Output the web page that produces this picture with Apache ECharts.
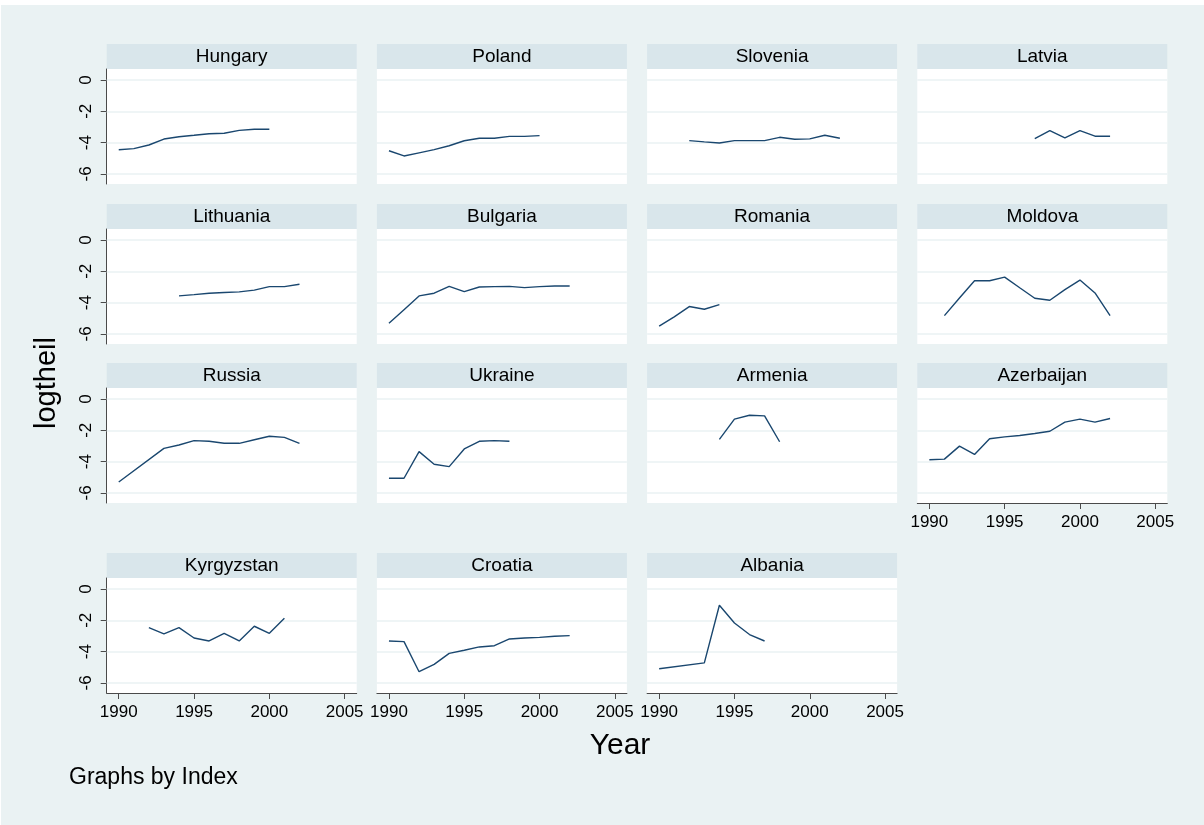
<!DOCTYPE html>
<html>
<head>
<meta charset="utf-8">
<script src="https://cdn.jsdelivr.net/npm/echarts@6/dist/echarts.min.js"></script>
<style>
html,body{margin:0;padding:0;background:#fff;}
#chart{width:1204px;height:825px;}
</style>
</head>
<body>
<div id="chart"></div>
<script>
// ---- data ----
const panelNames = ["Hungary","Poland","Slovenia","Latvia","Lithuania","Bulgaria","Romania","Moldova","Russia","Ukraine","Armenia","Azerbaijan","Kyrgyzstan","Croatia","Albania"];
const xTicks = [1990, 1995, 2000, 2005];
const yTicks = [0, -2, -4, -6];

const yearsHungary = [1990,1991,1992,1993,1994,1995,1996,1997,1998,1999,2000];
const valsHungary  = [-4.45,-4.38,-4.15,-3.77,-3.62,-3.53,-3.43,-3.40,-3.22,-3.15,-3.15];
const yearsPoland = [1990,1991,1992,1993,1994,1995,1996,1997,1998,1999,2000];
const valsPoland  = [-4.52,-4.85,-4.65,-4.45,-4.20,-3.88,-3.72,-3.72,-3.60,-3.60,-3.55];
const yearsSlovenia = [1992,1993,1994,1995,1996,1997,1998,1999,2000,2001,2002];
const valsSlovenia  = [-3.87,-3.95,-4.02,-3.87,-3.87,-3.87,-3.66,-3.78,-3.76,-3.53,-3.72];
const yearsLatvia = [1997,1998,1999,2000,2001,2002];
const valsLatvia  = [-3.74,-3.23,-3.70,-3.23,-3.59,-3.59];
const yearsLithuania = [1994,1995,1996,1997,1998,1999,2000,2001,2002];
const valsLithuania  = [-3.57,-3.49,-3.40,-3.35,-3.31,-3.20,-2.98,-2.98,-2.83];
const yearsBulgaria = [1990,1991,1992,1993,1994,1995,1996,1997,1998,1999,2000,2001,2002];
const valsBulgaria  = [-5.32,-4.45,-3.57,-3.40,-2.96,-3.30,-3.00,-2.98,-2.96,-3.04,-2.98,-2.94,-2.94];
const yearsRomania = [1990,1991,1992,1993,1994];
const valsRomania  = [-5.50,-4.91,-4.25,-4.42,-4.13];
const yearsMoldova = [1991,1992,1993,1994,1995,1996,1997,1998,1999,2000,2001,2002];
const valsMoldova  = [-4.83,-3.70,-2.60,-2.60,-2.37,-3.05,-3.72,-3.85,-3.17,-2.56,-3.38,-4.83];
const yearsRussia = [1990,1993,1994,1995,1996,1997,1998,1999,2000,2001,2002];
const valsRussia  = [-5.30,-3.15,-2.94,-2.66,-2.70,-2.83,-2.83,-2.60,-2.38,-2.45,-2.83];
const yearsUkraine = [1990,1991,1992,1993,1994,1995,1996,1997,1998];
const valsUkraine  = [-5.06,-5.06,-3.36,-4.17,-4.32,-3.19,-2.70,-2.66,-2.70];
const yearsArmenia = [1994,1995,1996,1997,1998];
const valsArmenia  = [-2.58,-1.29,-1.04,-1.08,-2.73];
const yearsAzerbaijan = [1990,1991,1992,1993,1994,1995,1996,1997,1998,1999,2000,2001,2002];
const valsAzerbaijan  = [-3.88,-3.84,-3.01,-3.54,-2.54,-2.42,-2.33,-2.20,-2.06,-1.48,-1.29,-1.48,-1.25];
const yearsKyrgyzstan = [1992,1993,1994,1995,1996,1997,1998,1999,2000,2001];
const valsKyrgyzstan  = [-2.47,-2.87,-2.47,-3.13,-3.32,-2.83,-3.32,-2.38,-2.83,-1.87];
const yearsCroatia = [1990,1991,1992,1993,1994,1995,1996,1997,1998,1999,2000,2001,2002];
const valsCroatia  = [-3.32,-3.36,-5.28,-4.81,-4.11,-3.91,-3.70,-3.62,-3.19,-3.13,-3.09,-3.02,-2.98];
const yearsAlbania = [1990,1993,1994,1995,1996,1997];
const valsAlbania  = [-5.09,-4.72,-1.04,-2.17,-2.91,-3.32];

const panelYears = [yearsHungary,yearsPoland,yearsSlovenia,yearsLatvia,yearsLithuania,yearsBulgaria,yearsRomania,yearsMoldova,yearsRussia,yearsUkraine,yearsArmenia,yearsAzerbaijan,yearsKyrgyzstan,yearsCroatia,yearsAlbania];
const panelVals = [valsHungary,valsPoland,valsSlovenia,valsLatvia,valsLithuania,valsBulgaria,valsRomania,valsMoldova,valsRussia,valsUkraine,valsArmenia,valsAzerbaijan,valsKyrgyzstan,valsCroatia,valsAlbania];

// ---- layout ----
const FONT = '"Liberation Sans", Arial, sans-serif';
const COL_X0 = 106.7, COL_PITCH = 270.2, PANEL_W = 250;
const ROW_TOPS = [69, 229, 388, 578];
const PLOT_H = 115, HEAD_H = 25;
const X_MIN = 1989.2, X_MAX = 2005.8;
const Y_MIN = -6.64, Y_MAX = 0.70;
const AXIS_COLOR = '#4a4a4a';
const LINE_COLOR = '#1a476f';
const BG = '#eaf2f3';
const HEAD_BG = '#d9e6eb';

const grids = [], xAxes = [], yAxes = [], series = [];
const graphics = [{
  type: 'rect', left: 1, top: 5, z: -10,
  shape: {width: 1203, height: 820}, style: {fill: BG}, silent: true
}];

panelNames.forEach((name, i) => {
  const r = Math.floor(i / 4), c = i % 4;
  const left = COL_X0 + c * COL_PITCH;
  const top = ROW_TOPS[r];
  const showX = (r === 3) || (r === 2 && c === 3);
  const showY = c === 0;
  grids.push({left: left, top: top, width: PANEL_W, height: PLOT_H, show: true,
              backgroundColor: '#ffffff', borderWidth: 0, containLabel: false});
  xAxes.push({
    gridIndex: i, type: 'value', min: X_MIN, max: X_MAX,
    axisLine: {show: showX, onZero: false, lineStyle: {color: AXIS_COLOR, width: 1}},
    axisTick: {show: showX, customValues: xTicks, length: 6, lineStyle: {color: AXIS_COLOR, width: 1}},
    axisLabel: {show: showX, customValues: xTicks, fontSize: 17, margin: 11, color: '#000', fontFamily: FONT,
                formatter: v => String(Math.round(v))},
    splitLine: {show: false}
  });
  yAxes.push({
    gridIndex: i, type: 'value', min: Y_MIN, max: Y_MAX,
    axisLine: {show: showY, onZero: false, lineStyle: {color: AXIS_COLOR, width: 1}},
    axisTick: {show: showY, customValues: yTicks, length: 6, lineStyle: {color: AXIS_COLOR, width: 1}},
    axisLabel: {show: showY, customValues: yTicks, rotate: 90, fontSize: 17, margin: 12, color: '#000', fontFamily: FONT,
                formatter: v => String(Math.round(v))},
    splitLine: {show: false}
  });
  // grid lines
  series.push({
    type: 'line', xAxisIndex: i, yAxisIndex: i, data: [], z: 1, zlevel: 0, silent: true,
    markLine: {silent: true, symbol: 'none', animation: false, label: {show: false},
      lineStyle: {color: BG, width: 1.6, type: 'solid'},
      data: yTicks.map(v => ({yAxis: v}))}
  });
  // data line
  series.push({
    type: 'line', xAxisIndex: i, yAxisIndex: i, z: 3, zlevel: 1, silent: true,
    data: panelYears[i].map((yr, k) => [yr, panelVals[i][k]]),
    showSymbol: false, symbol: 'none',
    lineStyle: {color: LINE_COLOR, width: 1.4}
  });
  // header
  graphics.push({type: 'rect', left: left, top: top - HEAD_H, z: 0, silent: true,
    shape: {width: PANEL_W, height: HEAD_H}, style: {fill: HEAD_BG}});
  graphics.push({type: 'text', x: left + PANEL_W / 2, y: top - HEAD_H / 2, z: 1, silent: true,
    style: {text: name, fill: '#000', font: '19px ' + FONT, align: 'center', verticalAlign: 'middle'}});
});

graphics.push({type: 'text', x: 47, y: 383, rotation: Math.PI / 2, silent: true,
  style: {text: 'logtheil', fill: '#000', font: '29px ' + FONT, align: 'center', verticalAlign: 'middle'}});
graphics.push({type: 'text', x: 620, y: 746, silent: true,
  style: {text: 'Year', fill: '#000', font: '30px ' + FONT, align: 'center', verticalAlign: 'middle'}});
graphics.push({type: 'text', x: 69, y: 778, silent: true,
  style: {text: 'Graphs by Index', fill: '#000', font: '23px ' + FONT, align: 'left', verticalAlign: 'middle'}});

const chart = echarts.init(document.getElementById('chart'), null, {renderer: 'canvas'});
chart.setOption({
  animation: false,
  backgroundColor: '#ffffff',
  grid: grids, xAxis: xAxes, yAxis: yAxes, series: series,
  graphic: graphics
});
</script>
</body>
</html>
